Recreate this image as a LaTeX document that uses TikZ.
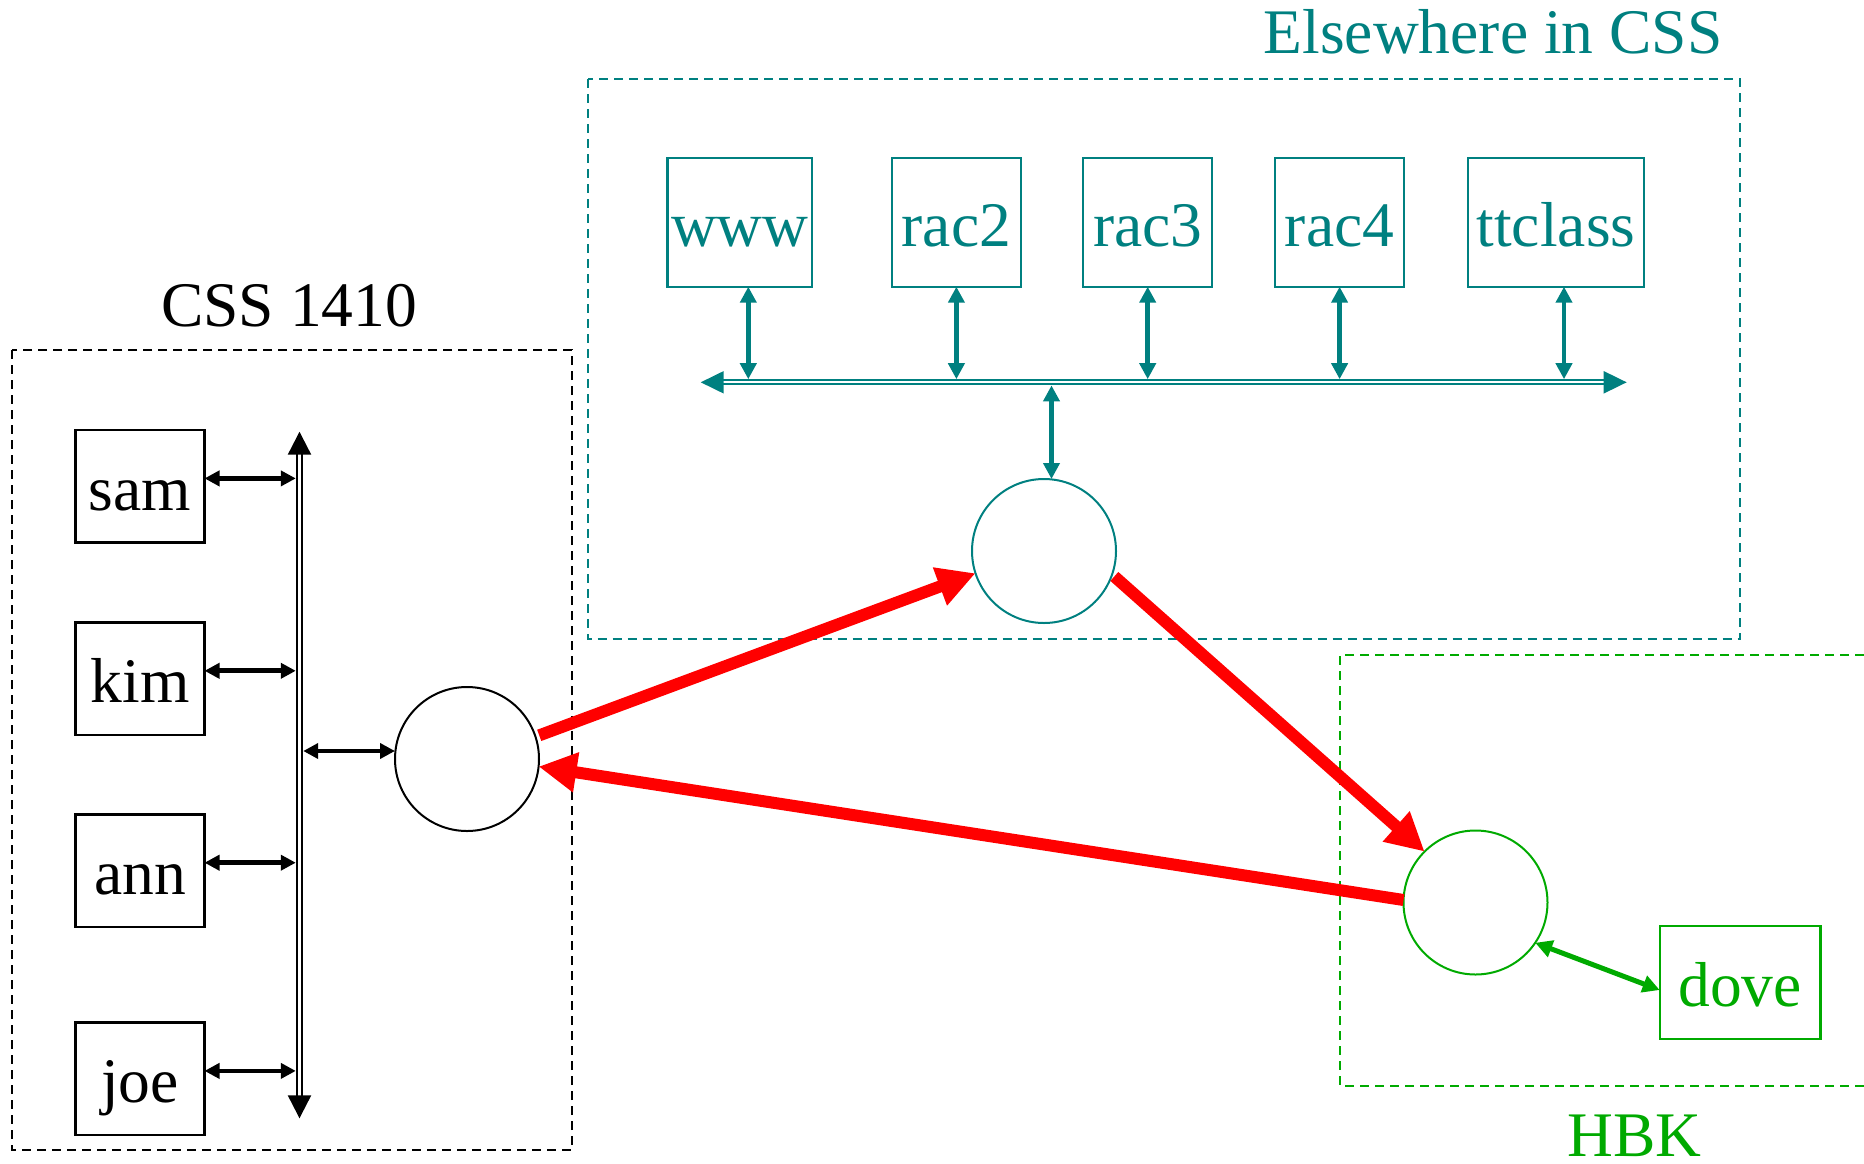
\documentclass[tikz,border=0pt]{standalone}
\usepackage{fontspec}
\setmainfont{Liberation Serif}
\usetikzlibrary{arrows.meta}
\definecolor{tealc}{RGB}{0,128,128}
\definecolor{greenc}{RGB}{0,170,0}
\definecolor{redc}{RGB}{255,0,0}
\begin{document}
\begin{tikzpicture}[x=1pt,y=-1pt,
  every node/.style={font=\fontsize{63.5}{70}\selectfont},
  title/.style={anchor=base,inner sep=0pt,outer sep=0pt},
  hostbox/.style={draw,line width=2.5pt,inner sep=0pt,outer sep=0pt,minimum height=112.5pt,text height=48pt,text depth=0pt},
  tealbox/.style={draw=tealc,text=tealc,line width=2.2pt,inner sep=0pt,outer sep=0pt,minimum height=128.4pt,text height=48pt,text depth=0pt},
  greenbox/.style={draw=greenc,text=greenc,line width=2.2pt,inner sep=0pt,outer sep=0pt,minimum height=113pt,text height=48pt,text depth=0pt},
  router/.style={circle,draw,line width=2pt,minimum size=144pt,inner sep=0pt,outer sep=0pt},
  frame/.style={line width=2pt,dash pattern=on 9pt off 6pt},
  blackarrow/.style={line width=4.8pt,{Triangle[length=15pt,width=15pt]}-{Triangle[length=15pt,width=15pt]}},
  tealarrow/.style={tealc,line width=4.8pt,{Triangle[length=16pt,width=16pt]}-{Triangle[length=16pt,width=16pt]}},
  greenarrow/.style={greenc,line width=5pt,{Triangle[length=17pt,width=17pt]}-{Triangle[length=17pt,width=17pt]}},
  redarrow/.style={redc,line width=12pt,-{Triangle[length=38pt,width=38pt]}}
]
\useasboundingbox (0,0) rectangle (1864,1163);

% ---------- CSS 1410 ----------
\draw[frame] (12,350) rectangle (572,1150);
\node[title] (t1) at (289.2,326.7) {CSS 1410};
\node[hostbox,minimum width=129pt] (sam) at (140,486.4) {sam};
\node[hostbox,minimum width=129pt] (kim) at (140,678.8) {kim};
\node[hostbox,minimum width=129pt] (ann) at (140,870.7) {ann};
\node[hostbox,minimum width=129pt] (joe) at (140,1078.9) {joe};
\node[router] (lc) at (467,759) {};

\coordinate (bt) at (299.5,431.7);
\coordinate (bb) at (299.5,1118.3);
\draw[line width=2.2pt,double distance=3pt,{Triangle[length=23pt,width=23pt]}-{Triangle[length=23pt,width=23pt]}] (bt) -- (bb);
\foreach \n in {sam,kim,ann,joe}{
  \coordinate (\n-p) at ([yshift=8pt]\n.east);
  \draw[blackarrow,shorten >=3.7pt] (\n-p) -- (\n-p -| bt);
}
\coordinate (lc-p) at ([yshift=8pt]lc.west);
\draw[blackarrow,shorten <=3.7pt] (lc-p -| bt) -- (lc-p);

% ---------- Elsewhere in CSS ----------
\draw[frame,tealc] (587.5,79) rectangle (1740,639);
\node[title,text=tealc] (t2) at (1493,53.3) {Elsewhere in CSS};
\node[tealbox,minimum width=144.8pt] (www) at (739.8,222.5) {www};
\node[tealbox,minimum width=128.9pt] (rac2) at (956.4,222.5) {rac2};
\node[tealbox,minimum width=128.7pt] (rac3) at (1147.7,222.5) {rac3};
\node[tealbox,minimum width=128.8pt] (rac4) at (1339.6,222.5) {rac4};
\node[tealbox,minimum width=176pt] (ttclass) at (1556,222.5) {ttclass};
\node[router,draw=tealc] (tc) at (1044,551) {};

\coordinate (tbl) at (700.7,382.3);
\coordinate (tbr) at (1626.7,382.3);
\draw[tealc,line width=2pt,double distance=2.2pt,{Triangle[length=23pt,width=22pt]}-{Triangle[length=23pt,width=22pt]}] (tbl) -- (tbr);
\coordinate (www-p) at ([xshift=8.5pt]www.south);
\coordinate (rac2-p) at (rac2.south);
\coordinate (rac3-p) at (rac3.south);
\coordinate (rac4-p) at (rac4.south);
\coordinate (ttclass-p) at ([xshift=8pt]ttclass.south);
\foreach \n in {www,rac2,rac3,rac4,ttclass}{
  \draw[tealarrow,shorten >=3.1pt] (\n-p) -- (\n-p |- tbl);
}
\coordinate (tc-p) at ([xshift=7.5pt]tc.north);
\draw[tealarrow,shorten <=3.1pt] (tc-p |- tbl) -- (tc-p);

% ---------- HBK ----------
\draw[frame,greenc] (1864,655) -- (1340,655) -- (1340,1086) -- (1864,1086);
\node[title,text=greenc] (t3) at (1634.5,1156) {HBK};
\node[router,draw=greenc] (gc) at (1475.5,902.5) {};
\node[greenbox,minimum width=160.8pt] (dove) at (1740.1,982.5) {dove};
\coordinate (dove-p) at ([yshift=-7.5pt]dove.west);
\draw[greenarrow] (gc.-34) -- (dove-p);

% ---------- red links ----------
\draw[redarrow,shorten <=4pt] (lc.18) -- (tc.198);
\draw[redarrow,shorten <=3pt] (tc.-19) -- (gc.135);
\draw[redarrow] (gc.178) -- (lc.-6);
\end{tikzpicture}
\end{document}
